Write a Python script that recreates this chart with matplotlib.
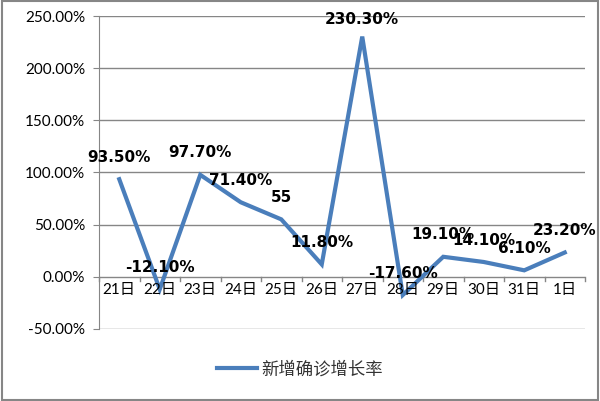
import matplotlib
matplotlib.use('Agg')
import matplotlib.pyplot as plt
from matplotlib.patches import Rectangle

plt.rcParams['font.family'] = ['Lato', 'Noto Sans CJK SC', 'DejaVu Sans']

days = ['21日', '22日', '23日', '24日', '25日', '26日', '27日', '28日', '29日', '30日', '31日', '1日']
growth = [93.5, -12.1, 97.7, 71.4, 55, 11.8, 230.3, -17.6, 19.1, 14.1, 6.1, 23.2]
labels = ['93.50%', '-12.10%', '97.70%', '71.40%', '55', '11.80%', '230.30%',
          '-17.60%', '19.10%', '14.10%', '6.10%', '23.20%']
yticks = [-50, 0, 50, 100, 150, 200, 250]

fig = plt.figure(figsize=(6, 4.01), dpi=100)
ax = fig.add_axes([0.165, 0.18, 0.81, 0.78])

x = list(range(len(days)))
ax.plot(x, growth, color='#4a7ebb', lw=3, solid_joinstyle='miter', zorder=3,
        label='新增确诊增长率')
for xi, yi, t in zip(x, growth, labels):
    # labels near the top get pushed down like excel does
    off = 9 if yi > 220 else 12.5
    ax.annotate(t, (xi, yi), xytext=(0, off), textcoords='offset points',
                ha='center', va='baseline', fontsize=11, fontweight='bold',
                family='DejaVu Sans', color='black', zorder=4)

ax.set_xlim(-0.5, len(days) - 0.5)
ax.set_ylim(-50, 250)
ax.set_yticks(yticks)
ax.set_yticklabels(['%.2f%%' % v for v in yticks], fontsize=11)
for v in yticks:
    if v != 0:
        ax.axhline(v, color='#868686', lw=1, zorder=1)
ax.axhline(0, color='#868686', lw=1, zorder=2)

for s in ['top', 'right', 'bottom']:
    ax.spines[s].set_visible(False)
ax.spines['left'].set_color('#868686')
ax.tick_params(axis='y', length=4, color='#868686', pad=6)
ax.set_xticks([])

# category ticks on the zero line
for b in range(len(days) + 1):
    ax.plot([b - 0.5, b - 0.5], [0, -4], color='#868686', lw=1, clip_on=False, zorder=2)
for xi, d in zip(x, days):
    ax.text(xi, -6, d, ha='center', va='top', fontsize=11, color='black')

leg = fig.legend(loc='center', bbox_to_anchor=(0.5, 0.08), frameon=False,
                 fontsize=12.5, handlelength=2.3, handletextpad=0.3)
for t in leg.get_texts():
    t.set_color('#333333')

fig.patches.append(Rectangle((0.003, 0.003), 0.994, 0.994, transform=fig.transFigure,
                             fill=False, edgecolor='#868686', lw=1.5))

fig.savefig('out.png', dpi=100)
